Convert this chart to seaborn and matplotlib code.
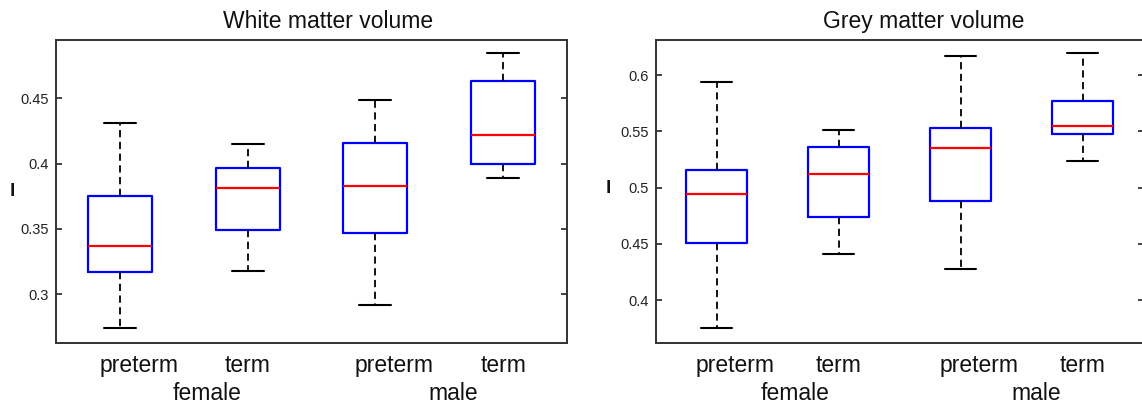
import numpy as np
import pandas as pd
import matplotlib
matplotlib.use("Agg")
import matplotlib.pyplot as plt
import seaborn as sns

# Group labels (sex x birth status)
groups = ["female preterm", "female term", "male preterm", "male term"]
tick_labels = ["preterm", "term", "preterm", "term"]
sex_labels = ["female", "male"]

# White matter volume: whisker ends, quartiles and medians
wm_lo = [0.274, 0.318, 0.292, 0.389]
wm_q1 = [0.317, 0.349, 0.347, 0.400]
wm_med = [0.337, 0.381, 0.383, 0.422]
wm_q3 = [0.375, 0.397, 0.416, 0.463]
wm_hi = [0.431, 0.415, 0.449, 0.485]

# Grey matter volume
gm_lo = [0.375, 0.441, 0.428, 0.524]
gm_q1 = [0.451, 0.474, 0.488, 0.548]
gm_med = [0.494, 0.512, 0.535, 0.555]
gm_q3 = [0.516, 0.536, 0.553, 0.577]
gm_hi = [0.594, 0.551, 0.617, 0.620]


# Five points per group give exactly these quartiles with np.percentile
def make_frame(lo, q1, med, q3, hi):
    rows = []
    for i, g in enumerate(groups):
        for v in (lo[i], q1[i], med[i], q3[i], hi[i]):
            rows.append({"group": g, "value": v})
    return pd.DataFrame(rows)


wm_df = make_frame(wm_lo, wm_q1, wm_med, wm_q3, wm_hi)
gm_df = make_frame(gm_lo, gm_q1, gm_med, gm_q3, gm_hi)

sns.set_theme(style="white")
plt.rcParams["font.family"] = ["Liberation Sans", "DejaVu Sans"]

fig = plt.figure(figsize=(11.42, 4.16), dpi=100)
W, H = 1142, 416
ax1 = fig.add_axes([56 / W, (416 - 343) / H, 511 / W, 303 / H])
ax2 = fig.add_axes([655.5 / W, (416 - 343) / H, 488 / W, 303 / H])

# "preterm" labels sit a little right of their boxes in the original
label_pos = [0.15, 1.0, 2.15, 3.0]

panels = [
    (ax1, wm_df, "White matter volume", (0.2627, 0.4946),
     [0.3, 0.35, 0.4, 0.45], ["0.3", "0.35", "0.4", "0.45"], 0.532, [0.68, 2.61]),
    (ax2, gm_df, "Grey matter volume", (0.362, 0.6313),
     [0.4, 0.45, 0.5, 0.55, 0.6], ["0.4", "0.45", "0.5", "0.55", "0.6"], 0.55, [0.64, 2.62]),
]

for ax, df, title, ylim, yticks, ylabels, tx, sex_x in panels:
    sns.boxplot(
        data=df, x="group", y="value", order=groups, ax=ax,
        width=0.5, fill=False, whis=(0, 100), showfliers=False,
        boxprops=dict(color="#0000ff", linewidth=1.6),
        medianprops=dict(color="#ff0000", linewidth=1.6),
        whiskerprops=dict(color="black", linewidth=1.3, linestyle=(0, (4, 2.5))),
        capprops=dict(color="black", linewidth=1.5),
    )
    ax.set_xlim(-0.5, 3.5)
    ax.set_ylim(*ylim)
    ax.set_yticks(yticks)
    ax.set_yticklabels(ylabels, fontsize=10.5, color="#222222")
    ax.set_xticks(label_pos)
    ax.set_xticklabels(tick_labels, fontsize=16.5, color="#111111")
    ax.tick_params(axis="x", length=0, pad=8)
    ax.tick_params(axis="y", direction="in", length=4.5, width=1.2,
                   left=True, right=True, color="#222222", pad=5)
    ax.set_xlabel("")
    ax.set_ylabel("")
    for sp in ax.spines.values():
        sp.set_color("#333333")
        sp.set_linewidth(1.4)
    ax.set_title(title, fontsize=16.5, x=tx, pad=9, color="#111111")

    # second row of category labels (sex)
    trans = ax.get_xaxis_transform()
    for xs, lab in zip(sex_x, sex_labels):
        ax.text(xs, -0.13, lab, transform=trans, ha="center", va="top",
                fontsize=16.5, color="#111111")

# the small stray y-label marks
ax1.text(-0.086, 0.5, "l", transform=ax1.transAxes, ha="center", va="center",
         fontsize=14, fontweight="bold", color="#111111")
ax2.text(-0.097, 0.51, "l", transform=ax2.transAxes, ha="center", va="center",
         fontsize=14, fontweight="bold", color="#111111")

fig.savefig("out.png", dpi=100, facecolor="white")
